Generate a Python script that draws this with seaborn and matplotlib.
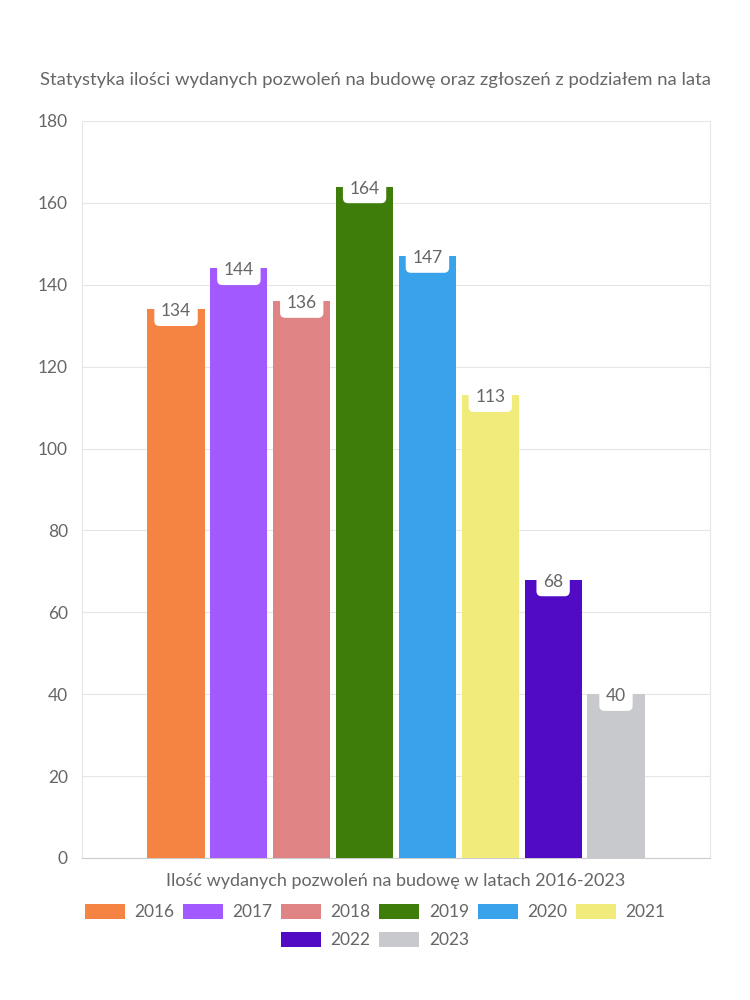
import matplotlib
matplotlib.use("Agg")
import matplotlib.pyplot as plt
import seaborn as sns
import pandas as pd

years = ["2016", "2017", "2018", "2019", "2020", "2021", "2022", "2023"]
values = [134, 144, 136, 164, 147, 113, 68, 40]
colors = ["#F58342", "#A259FF", "#E08385", "#3F7D0B", "#38A3EA", "#F0EB7B", "#520BC4", "#C8C9CC"]
group = "Ilość wydanych pozwoleń na budowę w latach 2016-2023"
title = "Statystyka ilości wydanych pozwoleń na budowę oraz zgłoszeń z podziałem na lata"
yticks = [0, 20, 40, 60, 80, 100, 120, 140, 160, 180]

sns.set_theme(style="white")
plt.rcParams['font.family'] = ['Lato', 'DejaVu Sans']
txt = "#666666"
grid = "#E6E6E6"

df = pd.DataFrame({"group": [group] * len(years), "year": years, "value": values})

fig = plt.figure(figsize=(7.5, 10), dpi=100)
ax = fig.add_axes([0.109, 0.142, 0.838, 0.737])
sns.barplot(data=df, x="group", y="value", hue="year", hue_order=years,
            palette=colors, ax=ax, width=0.8, gap=0.09, legend=True,
            saturation=1, edgecolor="none", linewidth=0, zorder=3)

ax.set_ylim(0, 180)
ax.set_yticks(yticks)
ax.set_yticklabels([str(t) for t in yticks], color=txt, fontsize=12.5)
ax.yaxis.grid(True, color=grid, linewidth=0.8, zorder=0)
ax.set_axisbelow(True)
ax.tick_params(axis="y", length=6, color=grid, width=0.8, pad=4)
ax.tick_params(axis="x", length=0)
ax.set_xticks([])
ax.set_xlim(-0.5, 0.5)
ax.set_ylabel("")
ax.set_xlabel(group, color=txt, fontsize=13, labelpad=11)
for s in ["left", "right", "top"]:
    ax.spines[s].set_color(grid)
    ax.spines[s].set_linewidth(0.8)
ax.spines["top"].set_visible(False)
ax.spines["bottom"].set_color("#CCCCCC")
ax.spines["bottom"].set_linewidth(0.8)

# value labels
for patch, v in zip(ax.patches, values):
    cx = patch.get_x() + patch.get_width() / 2
    ax.annotate(str(v), (cx, v), xytext=(0, -1.5), textcoords="offset points",
                ha="center", va="center", color=txt, fontsize=12.5,
                bbox=dict(boxstyle="round,pad=0.38,rounding_size=0.3", fc="white", ec="none"),
                zorder=5)

fig.text(0.5, 0.920, title, ha="center", va="center", color=txt, fontsize=13.3)

handles, labels = ax.get_legend_handles_labels()
ax.get_legend().remove()
kw = dict(frameon=False, fontsize=12.5, handlelength=2.3, handleheight=1.0,
          columnspacing=0.5, handletextpad=0.55, labelcolor=txt, borderaxespad=0,
          borderpad=0)
leg1 = fig.legend(handles[:6], labels[:6], loc="center", bbox_to_anchor=(0.5, 0.088),
                  ncol=6, **kw)
leg2 = fig.legend(handles[6:], labels[6:], loc="center", bbox_to_anchor=(0.5, 0.060),
                  ncol=2, **kw)

fig.savefig("out.png", dpi=100)
